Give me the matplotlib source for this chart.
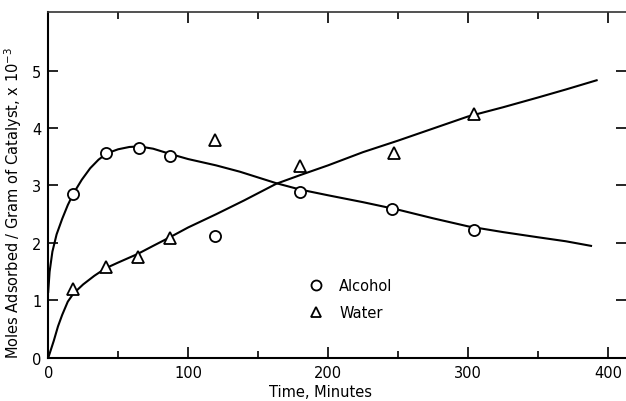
import numpy as np
import matplotlib
matplotlib.use('Agg')
import matplotlib.pyplot as plt
from matplotlib.ticker import MultipleLocator

plt.rcParams['font.family'] = ['DejaVu Sans']
plt.rcParams['mathtext.default'] = 'regular'

# measured points (time in minutes, moles x 10^-3)
alcohol_t = [18, 41, 65, 87, 119, 180, 246, 304]
alcohol_y = [2.85, 3.57, 3.66, 3.51, 2.13, 2.89, 2.59, 2.23]
water_t = [18, 41, 64, 87, 119, 180, 247, 304]
water_y = [1.20, 1.58, 1.76, 2.09, 3.80, 3.34, 3.57, 4.24]

# hand-drawn fitted curves
alc_curve_t = [0, 1, 3, 6, 10, 14, 18, 24, 30, 36, 42, 50, 58, 65, 75, 87, 100, 120,
               137, 163, 180, 200, 225, 250, 275, 300, 325, 350, 370, 388]
alc_curve_y = [1.15, 1.5, 1.85, 2.15, 2.42, 2.66, 2.86, 3.1, 3.3, 3.45, 3.56, 3.63,
               3.67, 3.68, 3.64, 3.55, 3.46, 3.35, 3.24, 3.04, 2.93, 2.83, 2.71,
               2.58, 2.43, 2.29, 2.19, 2.1, 2.03, 1.95]
wat_curve_t = [0, 4, 7, 10, 14, 18, 25, 33, 41, 50, 64, 75, 87, 100, 120, 140,
               163, 180, 200, 225, 250, 275, 300, 325, 350, 370, 392]
wat_curve_y = [0.0, 0.3, 0.55, 0.75, 0.98, 1.12, 1.28, 1.43, 1.56, 1.66, 1.81, 1.95,
               2.1, 2.27, 2.5, 2.74, 3.03, 3.18, 3.35, 3.58, 3.78, 3.99, 4.2,
               4.36, 4.53, 4.67, 4.83]

fig = plt.figure(figsize=(6.26, 4.02), dpi=100)
ax = fig.add_axes([0.077, 0.107, 0.923, 0.861])

ax.plot(alc_curve_t, alc_curve_y, color='black', lw=1.5, zorder=2)
ax.plot(wat_curve_t, wat_curve_y, color='black', lw=1.5, zorder=2)
ax.plot(alcohol_t, alcohol_y, 'o', ms=8, mfc='white', mec='black', mew=1.3,
        label='Alcohol', zorder=3)
ax.plot(water_t, water_y, '^', ms=8, mfc='white', mec='black', mew=1.3,
        label='Water', zorder=3)

ax.set_xlim(0, 413)
ax.set_ylim(0, 6.02)
ax.xaxis.set_major_locator(MultipleLocator(100))
ax.xaxis.set_minor_locator(MultipleLocator(50))
ax.set_yticks([0, 1, 2, 3, 4, 5])
ax.tick_params(axis='both', which='both', direction='in', top=True, right=True,
               labelsize=10.5, width=1.2)
ax.tick_params(axis='x', which='major', length=8, pad=5)
ax.tick_params(axis='x', which='minor', length=5)
ax.tick_params(axis='y', which='major', length=7, pad=5)

for s in ['left', 'bottom']:
    ax.spines[s].set_linewidth(1.5)
ax.spines['top'].set_linewidth(1.2)
ax.spines['top'].set_color('#333333')
ax.spines['right'].set_visible(False)

ax.set_xlabel('Time, Minutes', fontsize=10.5, labelpad=3)
ax.xaxis.set_label_coords(0.472, -0.075)
ax.set_ylabel('Moles Adsorbed / Gram of Catalyst, x 10$^{-3}$', fontsize=10.5)
ax.yaxis.set_label_coords(-0.042, 0.45)

ax.legend(loc='upper left', bbox_to_anchor=(0.428, 0.27), frameon=False,
          fontsize=10.5, handlelength=1.0, handletextpad=1.1, labelspacing=0.85,
          markerscale=0.9)

fig.savefig('out.png', dpi=100)
